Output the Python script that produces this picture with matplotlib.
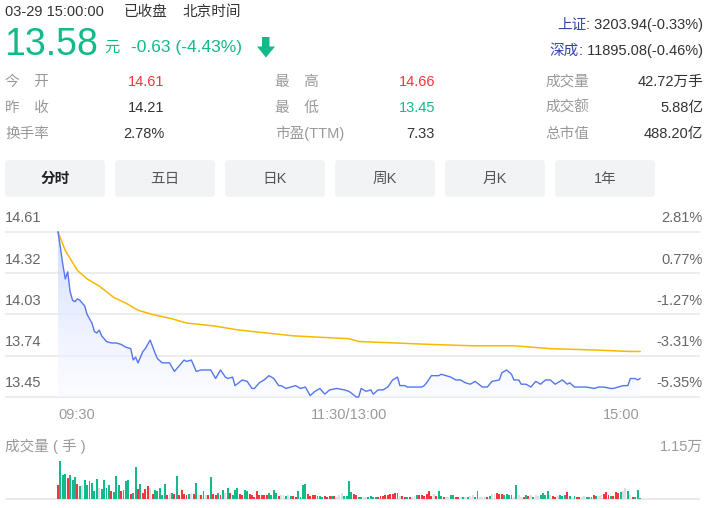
import numpy as np
import matplotlib
matplotlib.use('Agg')
import matplotlib.pyplot as plt
from matplotlib.patches import Polygon, FancyBboxPatch
from matplotlib import transforms

plt.rcParams['font.family'] = ['Liberation Sans', 'Noto Sans CJK SC', 'DejaVu Sans']

# quote header
prev_close = 14.21
last_price = 13.58
change = -0.63
change_pct = -4.43
quote_time = '03-29 15:00:00'
indices = [('上证', '3203.94(-0.33%)'), ('深成', '11895.08(-0.46%)')]
stats_left = [('今　开', '14.61', 'up'), ('昨　收', '14.21', 'flat'), ('换手率', '2.78%', 'flat')]
stats_mid = [('最　高', '14.66', 'up'), ('最　低', '13.45', 'down'), ('市盈(TTM)', '7.33', 'flat')]
stats_right = [('成交量', '42.72万手'), ('成交额', '5.88亿'), ('总市值', '488.20亿')]
tabs = ['分时', '五日', '日K', '周K', '月K', '1年']

# intraday price (minute index from 09:30, 241 minutes)
price_min = [0, 1, 2, 3, 4, 5, 6, 7, 8, 9, 10, 11, 12, 13, 14, 15, 16, 17, 18, 19,
             20, 22, 24, 26, 28, 30, 31, 32, 33, 35, 36, 38, 40, 41, 43, 46, 48, 50, 52, 53,
             55, 57, 59, 61, 63, 65, 67, 69, 70, 72, 73, 76, 78, 80, 81, 83, 85, 87, 89, 91,
             92, 94, 96, 98, 100, 102, 104, 106, 108, 110, 112, 115, 118, 120, 123, 124, 125, 127, 129, 130,
             132, 134, 136, 138, 140, 141, 143, 144, 146, 150, 151, 152, 154, 157, 158, 160, 162, 164, 166, 168,
             170, 172, 175, 177, 179, 182, 183, 185, 187, 188, 190, 191, 193, 195, 197, 199, 201, 203, 205, 207,
             208, 210, 211, 213, 216, 218, 221, 223, 225, 228, 229, 231, 233, 235, 236, 238, 239, 240]
price = [14.61, 14.50, 14.38, 14.28, 14.33, 14.19, 14.13, 14.12, 14.14, 14.13, 14.11, 14.09, 14.03, 14.00, 13.97, 13.91, 13.90, 13.92, 13.88, 13.86,
         13.84, 13.83, 13.83, 13.82, 13.80, 13.79, 13.71, 13.73, 13.69, 13.77, 13.79, 13.85, 13.76, 13.72, 13.69, 13.69, 13.63, 13.67, 13.71, 13.70,
         13.71, 13.63, 13.64, 13.64, 13.64, 13.58, 13.64, 13.59, 13.58, 13.59, 13.53, 13.57, 13.56, 13.51, 13.51, 13.55, 13.57, 13.60, 13.58, 13.53,
         13.53, 13.51, 13.52, 13.53, 13.51, 13.52, 13.46, 13.49, 13.51, 13.47, 13.50, 13.51, 13.50, 13.49, 13.45, 13.45, 13.51, 13.49, 13.50, 13.47,
         13.50, 13.50, 13.52, 13.57, 13.59, 13.53, 13.53, 13.52, 13.52, 13.52, 13.53, 13.55, 13.60, 13.60, 13.61, 13.60, 13.59, 13.57, 13.57, 13.55,
         13.54, 13.56, 13.52, 13.52, 13.56, 13.57, 13.62, 13.64, 13.61, 13.57, 13.57, 13.54, 13.54, 13.52, 13.56, 13.54, 13.57, 13.57, 13.54, 13.56,
         13.57, 13.54, 13.55, 13.52, 13.52, 13.52, 13.51, 13.52, 13.52, 13.51, 13.51, 13.52, 13.53, 13.53, 13.58, 13.58, 13.57, 13.58]

avg_min = [0, 3, 8, 12, 17, 23, 28, 33, 39, 47, 53, 64, 75, 86, 97, 108, 120, 124, 139, 153, 171, 188, 203, 222, 236, 240]
avg_price = [14.61, 14.48, 14.34, 14.28, 14.23, 14.15, 14.11, 14.06, 14.03, 14.00, 13.97, 13.95, 13.92, 13.90, 13.88, 13.87,
             13.86, 13.84, 13.83, 13.82, 13.81, 13.81, 13.79, 13.78, 13.77, 13.77]

price_ticks = [14.61, 14.32, 14.03, 13.74, 13.45]

# volume per minute (手) and direction: r up, g down, n flat
volume = [4170, 11500, 7230, 7530, 6210, 7230, 5700, 6510, 4680, 3870,
          4170, 5700, 4170, 5500, 4990, 2340, 6110, 3460, 2950, 5700,
          3460, 4170, 2340, 2140, 6920, 4170, 2340, 2650, 5400, 5800,
          1530, 1930, 9570, 3050, 4580, 1930, 3050, 3870, 3360, 1430,
          2650, 2440, 3460, 1120, 4580, 1120, 1930, 1930, 1530, 6920,
          1120, 2650, 1430, 1120, 1530, 1530, 1530, 4990, 1120, 1120,
          2340, 1120, 1120, 6510, 1530, 1120, 1930, 1120, 2650, 1930,
          3460, 1930, 1120, 2650, 3460, 1430, 1120, 2650, 2340, 1530,
          1120, 610, 2340, 1120, 1120, 1120, 1120, 1930, 1120, 2650,
          1930, 810, 1120, 1120, 810, 1120, 810, 810, 610, 2340,
          610, 4380, 4580, 1530, 810, 1120, 1120, 810, 810, 610,
          810, 610, 810, 810, 810, 610, 1120, 1930, 810, 810,
          5400, 2040, 1530, 1220, 710, 510, 510, 510, 710, 920,
          710, 710, 710, 920, 920, 1220, 1220, 1530, 1530, 1730,
          1730, 920, 920, 710, 710, 510, 710, 920, 1220, 1220,
          1220, 920, 1530, 2540, 920, 1530, 920, 2540, 920, 710,
          510, 510, 1220, 1220, 510, 710, 510, 510, 510, 510,
          920, 1220, 710, 2440, 510, 510, 710, 710, 920, 1530,
          1530, 1730, 1530, 1530, 1220, 1530, 1220, 1220, 710, 4280,
          1220, 710, 510, 1220, 920, 1220, 710, 1220, 920, 1220,
          1730, 1220, 2440, 1220, 920, 510, 920, 1220, 920, 1220,
          2040, 920, 710, 920, 710, 710, 710, 920, 510, 710,
          510, 1220, 920, 920, 1220, 1530, 2040, 1220, 920, 920,
          2040, 1730, 2040, 2540, 3260, 2540, 1220, 510, 510, 2750,
          300]
vol_dir = ('rgggrgggrg' 'nggggggngg' 'ggrgggrggg' 'rggrgrrrnr' 'gggggrngrg'
           'rrrrgnrgnr' 'gnrgrrgrgn' 'grgggrrggr' 'rrrrrrrggg' 'grnngngrrg'
           'gggrrrrggg' 'rrrgrnnngg' 'g'
           'grrggnngggg' 'rrrrrrrrg' 'nrrgrnngrrrrr' 'rnrggrnnggrrngng'
           'nnggnnnrgnnrrrggggngnnrgrngnng' 'gggnrrnggg' 'rgngrrnngggrgnnrrrgrrrgnng'
           'n')
vol_max = 11500

GREEN = '#12b98b'
RED = '#f2363c'
GRAY_BAR = '#dcdde6'
BLUE = '#5476f0'
YELLOW = '#f7b900'
dir_color = {'r': RED, 'g': GREEN, 'n': GRAY_BAR}

W, H = 706, 508
fig = plt.figure(figsize=(W / 100, H / 100), dpi=100)

# background axes in pixel units for the quote header
bg = fig.add_axes([0, 0, 1, 1])
bg.set_xlim(0, W)
bg.set_ylim(H, 0)
bg.axis('off')

bg.text(5, 16, quote_time, fontsize=10.5, color='#333333', va='baseline')
bg.text(124, 16, '已收盘', fontsize=10.5, color='#333333', va='baseline')
bg.text(182, 16, '北京时间', fontsize=10.5, color='#333333', va='baseline')

bg.text(4, 55, f'{last_price:.2f}', fontsize=27, color=GREEN, va='baseline')
bg.text(104, 52, '元', fontsize=11, color=GREEN, va='baseline')
bg.text(131, 52, f'{change:.2f} ({change_pct:.2f}%)', fontsize=12.5, color=GREEN, va='baseline')
bg.add_patch(Polygon([(262, 37), (269.5, 37), (269.5, 46.5), (275, 46.5), (266, 57.5), (257, 46.5), (262, 46.5)],
                     closed=True, facecolor=GREEN, edgecolor='none'))

for (name, val), base in zip(indices, [29, 55]):
    t = bg.text(703, base, f': {val}', fontsize=10.5, color='#333333', ha='right', va='baseline')
    fig.canvas.draw()
    bb = t.get_window_extent()
    bg.text(bb.x0, H - base, name, fontsize=10.5, color='#3546a6', ha='right', va='baseline',
            transform=None)

val_color = {'up': RED, 'down': GREEN, 'flat': '#333333'}
for i, base in enumerate([86, 112, 138]):
    lab, val, d = stats_left[i]
    bg.text(5, base, lab, fontsize=10.5, color='#999999', va='baseline')
    bg.text(164, base, val, fontsize=10.5, color=val_color[d], ha='right', va='baseline')
    lab, val, d = stats_mid[i]
    bg.text(275, base, lab, fontsize=10.5, color='#999999', va='baseline')
    bg.text(435, base, val, fontsize=10.5, color=val_color[d], ha='right', va='baseline')
    lab, val = stats_right[i]
    bg.text(545, base, lab, fontsize=10.5, color='#999999', va='baseline')
    bg.text(703, base, val, fontsize=10.5, color='#333333', ha='right', va='baseline')

for i, tab in enumerate(tabs):
    x0 = 5 + i * 110
    bg.add_patch(FancyBboxPatch((x0 + 3, 163), 94, 31, boxstyle='round,pad=3,rounding_size=4',
                                facecolor='#f2f3f5', edgecolor='none'))
    bg.text(x0 + 50, 179, tab, fontsize=10.5, ha='center', va='center',
            color='#222222' if i == 0 else '#555555', fontweight='bold' if i == 0 else 'normal')

bg.text(5, 451, '成交量 ( 手 )', fontsize=10.5, color='#999999', va='baseline')

# price axes: x=58px is 09:30, x=640px is 15:00
px_per_min = (640 - 58) / 240
k = (price_ticks[0] - price_ticks[-1]) / (397 - 232)
ax = fig.add_axes([5 / W, 1 - 400 / H, 695 / W, 175 / H])
ax.set_xlim((5 - 58) / px_per_min, (700 - 58) / px_per_min)
ax.set_ylim(price_ticks[-1] - 3 * k, price_ticks[0] + 7 * k)
ax.axis('off')
ax.patch.set_alpha(0)

for p in price_ticks:
    ax.axhline(p, color='#ededed', lw=1.5, zorder=0)

left_tr = transforms.blended_transform_factory(ax.transAxes, ax.transData)
for p in price_ticks:
    pct = (p - prev_close) / prev_close * 100
    ax.annotate(f'{p:.2f}', xy=(0, p), xycoords=left_tr, xytext=(0, 7), textcoords='offset points',
                fontsize=10.5, color='#666666', va='baseline', ha='left')
    ax.annotate(f'{pct:.2f}%', xy=(1.0043, p), xycoords=left_tr, xytext=(0, 7), textcoords='offset points',
                fontsize=10.5, color='#666666', va='baseline', ha='right')

for m, lab, ha in [(0, '09:30', 'left'), (120, '11:30/13:00', 'center'), (240, '15:00', 'right')]:
    ax.annotate(lab, xy=(m, price_ticks[-1]), xytext=(0, -16), textcoords='offset points',
                fontsize=10.5, color='#999999', va='baseline', ha=ha)

# gradient fill under price line
verts = [(price_min[0], price_ticks[-1])] + list(zip(price_min, price)) + [(price_min[-1], price_ticks[-1])]
clip = Polygon(verts, closed=True, facecolor='none', edgecolor='none')
ax.add_patch(clip)
grad = np.zeros((256, 1, 4))
grad[:, 0, 0] = np.linspace(0.80, 0.97, 256)
grad[:, 0, 1] = np.linspace(0.85, 0.98, 256)
grad[:, 0, 2] = 1.0
grad[:, 0, 3] = np.linspace(0.9, 0.5, 256)
im = ax.imshow(grad, extent=[price_min[0], price_min[-1], price_ticks[-1], price_ticks[0]],
               origin='upper', aspect='auto', zorder=1)
im.set_clip_path(clip)

ax.plot(avg_min, avg_price, color=YELLOW, lw=1.1, zorder=3)
ax.plot(price_min, price, color=BLUE, lw=1.0, zorder=4)

# volume axes
vk = vol_max / (499 - 461)
axv = fig.add_axes([5 / W, 1 - 500 / H, 695 / W, 45 / H])
axv.set_xlim((5 - 58) / px_per_min, (700 - 58) / px_per_min)
axv.set_ylim(-1 * vk, vol_max + 6 * vk)
axv.axis('off')
axv.patch.set_alpha(0)
axv.axhline(0, color='#e6e6e6', lw=1.2, zorder=0)
mins = np.arange(len(volume))
axv.bar(mins, volume, width=0.8, color=[dir_color[c] for c in vol_dir[:len(volume)]], zorder=2)
vtr = transforms.blended_transform_factory(axv.transAxes, axv.transData)
axv.annotate(f'{vol_max / 10000:.2f}万', xy=(1.0043, vol_max), xycoords=vtr, xytext=(0, 7.5),
             textcoords='offset points', fontsize=10.5, color='#999999', va='baseline', ha='right')

fig.savefig('out.png', dpi=100)
